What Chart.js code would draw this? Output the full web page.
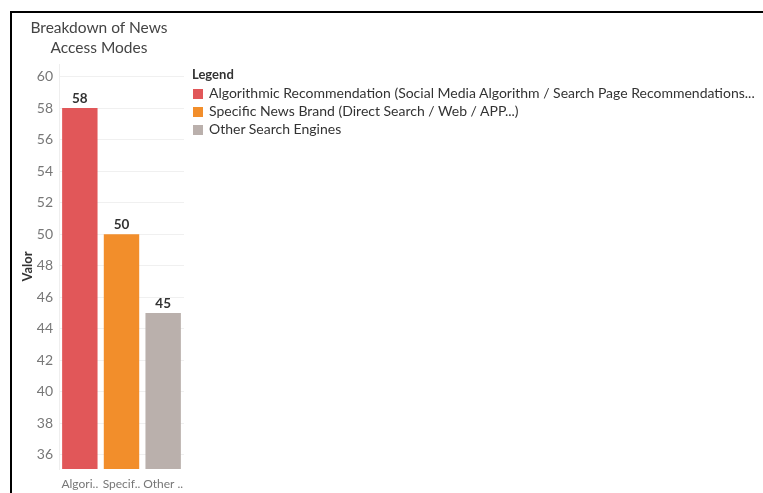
<!DOCTYPE html>
<html>
<head>
<meta charset="utf-8">
<script src="https://cdn.jsdelivr.net/npm/chart.js@4/dist/chart.umd.min.js"></script>
<style>
  html, body { margin: 0; padding: 0; background: #fff; }
  body { width: 763px; height: 493px; position: relative; overflow: hidden; font-family: Lato, "Noto Sans", sans-serif; }
  #frame { position: absolute; left: 10px; top: 11px; right: -5px; bottom: -5px; border-top: 2px solid #000; border-left: 2px solid #000; }
  #chart { position: absolute; left: 0; top: 0; }
  #title { position: absolute; left: 20px; top: 17px; width: 158px; text-align: center; font-size: 15.5px; line-height: 20px; color: #444; }
  #legend { position: absolute; left: 192px; top: 66px; font-size: 14px; color: #333; white-space: nowrap; }
  #legend .head { font-weight: bold; font-size: 13px; height: 18px; }
  #legend .item { height: 18px; line-height: 18px; }
  #legend .sw { display: inline-block; width: 10px; height: 10px; margin: 0 6px 0 1px; vertical-align: -1px; }
</style>
</head>
<body>
<div id="frame"></div>
<canvas id="chart" width="763" height="493"></canvas>
<div id="title">Breakdown of News<br>Access Modes</div>
<div id="legend"></div>
<script>
// Categories, values and tick labels
const legendNames = [
    "Algorithmic Recommendation (Social Media Algorithm / Search Page Recommendations...",
    "Specific News Brand (Direct Search / Web / APP...)",
    "Other Search Engines"
];
const axisLabels = ["Algori..", "Specif..", "Other .."];
const values = [58, 50, 45];
const barColors = ["#e15759", "#f28e2b", "#bab0ac"];
const yTicks = [36, 38, 40, 42, 44, 46, 48, 50, 52, 54, 56, 58, 60];

// Legend block
const legendBox = document.getElementById("legend");
legendBox.innerHTML = '<div class="head">Legend</div>' + legendNames.map((name, i) =>
    `<div class="item"><span class="sw" style="background:${barColors[i]}"></span>${name}</div>`
).join("");

// Value labels above each bar
const valueLabels = {
    id: "valueLabels",
    afterDatasetsDraw(chart) {
        const ctx = chart.ctx;
        const meta = chart.getDatasetMeta(0);
        ctx.save();
        ctx.font = "bold 13.5px Lato, 'Noto Sans', sans-serif";
        ctx.fillStyle = "#333";
        ctx.textAlign = "center";
        ctx.textBaseline = "bottom";
        meta.data.forEach((bar, i) => {
            ctx.fillText(String(values[i]), bar.x, bar.y - 3);
        });
        ctx.restore();
    }
};

new Chart(document.getElementById("chart"), {
    type: "bar",
    data: {
        labels: axisLabels,
        datasets: [{
            data: values,
            backgroundColor: barColors,
            borderWidth: 0,
            barPercentage: 0.85,
            categoryPercentage: 1
        }]
    },
    options: {
        responsive: false,
        animation: false,
        layout: { padding: { left: 12, right: 579, top: 64, bottom: 0 } },
        plugins: { legend: { display: false }, tooltip: { enabled: false } },
        scales: {
            x: {
                grid: { display: false },
                border: { display: false },
                ticks: { color: "#777", font: { family: "Lato", size: 12 }, padding: 0, maxRotation: 0, autoSkip: false },
                afterFit(scale) { scale.height = 24; }
            },
            y: {
                min: 35.1,
                max: 60.8,
                afterBuildTicks(scale) { scale.ticks = yTicks.map(v => ({ value: v })); },
                grid: { color: "#f0f0f0", drawTicks: false },
                border: { color: "#eeeeee" },
                ticks: { color: "#777", font: { family: "Lato", size: 14 }, padding: 6 },
                title: { display: true, text: "Valor", color: "#333", font: { family: "Lato", size: 13, weight: "bold" }, padding: { top: 8, bottom: 0 } },
                afterFit(scale) { scale.width = 47; }
            }
        }
    },
    plugins: [valueLabels]
});
</script>
</body>
</html>
